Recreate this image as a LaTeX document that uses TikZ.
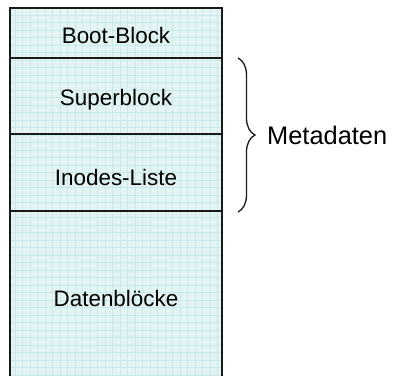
\documentclass[tikz,border=0pt]{standalone}
\usepackage{fontspec}
\setmainfont{Liberation Sans}
\usetikzlibrary{decorations.pathreplacing}
\definecolor{cellfill}{HTML}{E4F3F3}
\definecolor{gridc}{HTML}{CBE8EA}
\definecolor{edge}{HTML}{1A1A1A}
\tikzset{
  lbl/.style={font=\fontsize{22.5}{26}\selectfont, text=black, inner sep=0pt},
  sep/.style={draw=edge, line width=1.4bp},
}
\begin{document}
\begin{tikzpicture}[x=1bp,y=-1bp]
\useasboundingbox (0,0) rectangle (395,376);
\fill[cellfill] (10,8) rectangle (222,376);
\begin{scope}
\clip (10,8) rectangle (222,376);
\draw[gridc, line width=0.4bp, step=7.5bp] (10,8) grid (222,376);
\end{scope}
\draw[sep] (10,376) -- (10,8) -- (222,8) -- (222,376);
\coordinate (a1) at (10,58);
\coordinate (b1) at (222,58);
\coordinate (a2) at (10,134);
\coordinate (b2) at (222,134);
\coordinate (a3) at (10,211);
\coordinate (b3) at (222,211);
\draw[sep] (a1) -- (b1);
\draw[sep] (a2) -- (b2);
\draw[sep] (a3) -- (b3);
\node[lbl] (boot) at (116,35) {Boot-Block};
\node[lbl] (super) at (116,100) {Superblock};
\node[lbl] (inodes) at (116,177) {Inodes-Liste};
\node[lbl] (daten) at (116,298) {Datenblöcke};
\coordinate (bt) at (238,58);
\coordinate (bb) at (238,212);
\draw[edge, line width=1.3bp, decorate, decoration={brace, amplitude=17bp}] (bt) -- (bb);
\node[lbl, font=\fontsize{25.5}{30}\selectfont, anchor=west] (meta) at (267,135) {Metadaten};
\end{tikzpicture}
\end{document}
